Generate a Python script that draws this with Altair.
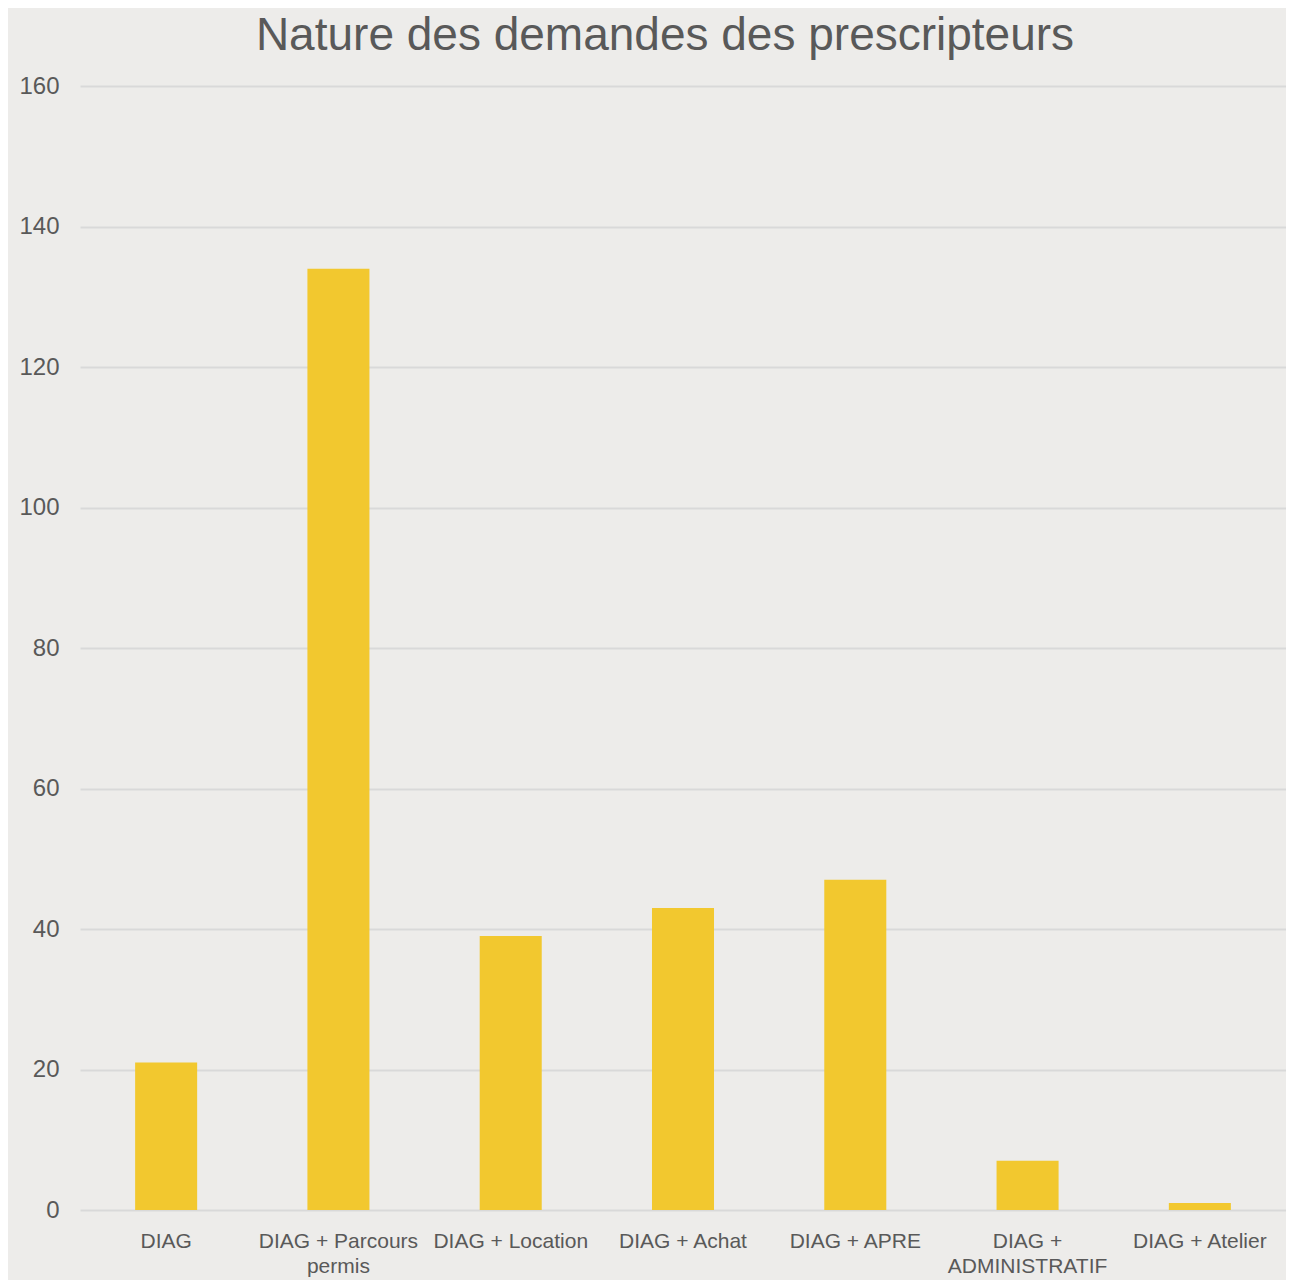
import altair as alt
import pandas as pd

categories = [
    "DIAG",
    "DIAG + Parcours permis",
    "DIAG + Location",
    "DIAG + Achat",
    "DIAG + APRE",
    "DIAG + ADMINISTRATIF",
    "DIAG + Atelier",
]
values = [21, 134, 39, 43, 47, 7, 1]
y_ticks = [0, 20, 40, 60, 80, 100, 120, 140, 160]

df = pd.DataFrame({"categorie": categories, "valeur": values})

FONT = "Liberation Sans"
TEXT = "#595959"
GRID = "#D9D9D9"
BG = "#EDECEA"
BAR = "#F2C82F"

label_expr = (
    "datum.label == 'DIAG + Parcours permis' ? ['DIAG + Parcours', 'permis'] : "
    "datum.label == 'DIAG + ADMINISTRATIF' ? ['DIAG +', 'ADMINISTRATIF'] : datum.label"
)

chart = (
    alt.Chart(df)
    .mark_bar(color=BAR)
    .encode(
        x=alt.X(
            "categorie:N",
            sort=categories,
            title=None,
            scale=alt.Scale(paddingInner=0.64, paddingOuter=0.32),
            axis=alt.Axis(
                labelAngle=0,
                labelExpr=label_expr,
                labelFont=FONT,
                labelFontSize=21,
                labelColor=TEXT,
                labelLineHeight=25,
                labelPadding=20,
                ticks=False,
                tickSize=0,
                domain=False,
                grid=False,
                labelLimit=400,
            ),
        ),
        y=alt.Y(
            "valeur:Q",
            title=None,
            scale=alt.Scale(domain=[0, 160], nice=False),
            axis=alt.Axis(
                values=y_ticks,
                labelFont=FONT,
                labelFontSize=24,
                labelColor=TEXT,
                labelPadding=21,
                ticks=False,
                tickSize=0,
                domain=False,
                grid=True,
                gridColor=GRID,
                gridWidth=2,
            ),
        ),
    )
    .properties(
        width=1206,
        height=1124,
        autosize=alt.AutoSizeParams(type="none"),
        padding={"left": 72, "top": 78, "right": 0, "bottom": 70},
        background=BG,
        title=alt.TitleParams(
            "Nature des demandes des prescripteurs",
            font=FONT,
            fontSize=46,
            fontWeight="normal",
            color=TEXT,
            anchor="middle",
            dx=-18,
            offset=14,
        ),
    )
    .configure_view(stroke=None)
)

chart.save("out.html", embed_options={"renderer": "svg", "actions": False})
